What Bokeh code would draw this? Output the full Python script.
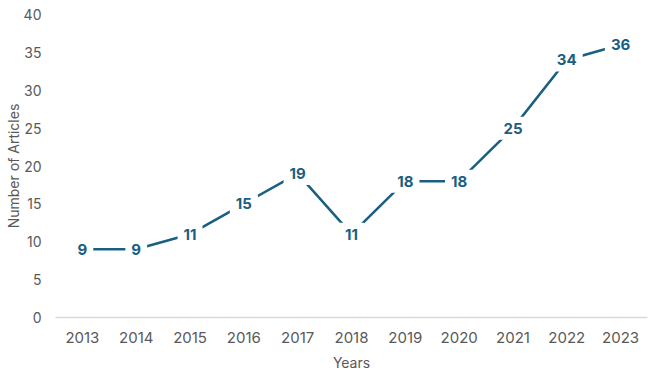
from bokeh.plotting import figure
from bokeh.models import FactorRange, ColumnDataSource, Range1d
from bokeh.core.properties import value
from bokeh.embed import file_html
from bokeh.resources import INLINE

years = ["2013", "2014", "2015", "2016", "2017", "2018", "2019", "2020", "2021", "2022", "2023"]
articles = [9, 9, 11, 15, 19, 11, 18, 18, 25, 34, 36]

LINE = "#185F82"
GREY = "#595959"
FONT = "Inter"

src = ColumnDataSource(dict(x=years, y=articles, t=[str(v) for v in articles]))

p = figure(width=650, height=375, x_range=FactorRange(*years, range_padding=0),
           y_range=Range1d(0, 40), output_backend="svg", toolbar_location=None,
           min_border_left=55, min_border_right=3, min_border_top=14, min_border_bottom=58)
p.outline_line_color = None
p.background_fill_color = "white"
p.grid.grid_line_color = None

p.line("x", "y", source=src, line_color=LINE, line_width=2.5)
p.text("x", "y", text="t", source=src, text_align="center", text_baseline="middle",
       text_color=LINE, text_font=value(FONT), text_font_style="bold", text_font_size="15px",
       background_fill_color="white", padding=6)

p.yaxis.ticker = [0, 5, 10, 15, 20, 25, 30, 35, 40]
p.yaxis.axis_line_color = None
p.yaxis.major_label_standoff = 14
p.yaxis.axis_label = "Number of Articles"
p.yaxis.axis_label_standoff = -1
p.yaxis.major_label_text_font_size = "14px"

p.xaxis.axis_line_color = "#D9D9D9"
p.xaxis.axis_line_width = 1.5
p.xaxis.major_label_standoff = 14
p.xaxis.axis_label = "Years"
p.xaxis.axis_label_standoff = 8
p.xaxis.major_label_text_font_size = "15px"

for ax in (p.xaxis, p.yaxis):
    ax.major_tick_line_color = None
    ax.minor_tick_line_color = None
    ax.major_tick_out = 0
    ax.major_tick_in = 0
    ax.minor_tick_out = 0
    ax.minor_tick_in = 0
    ax.major_label_text_font = FONT
    ax.major_label_text_color = GREY
    ax.axis_label_text_font = FONT
    ax.axis_label_text_font_size = "14px"
    ax.axis_label_text_font_style = "normal"
    ax.axis_label_text_color = GREY

open("out.html", "w").write(file_html(p, INLINE))
